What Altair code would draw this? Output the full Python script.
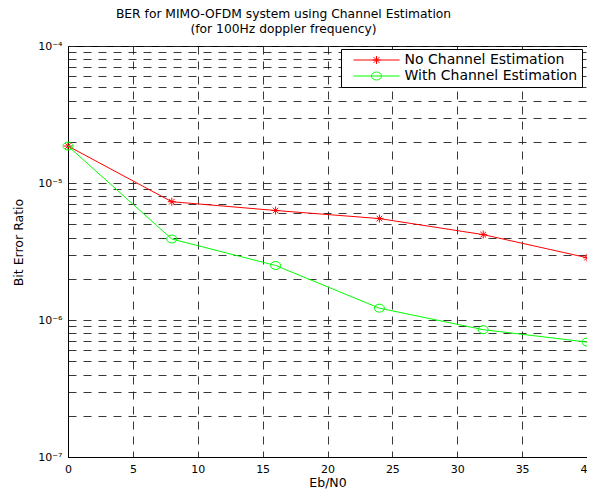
import altair as alt
import pandas as pd

# ---- data ----
eb_n0 = [0, 8, 16, 24, 32, 40]
ber_no_est = [1.86e-5, 7.3e-6, 6.3e-6, 5.5e-6, 4.2e-6, 2.85e-6]
ber_with_est = [1.86e-5, 3.9e-6, 2.5e-6, 1.22e-6, 8.5e-7, 6.9e-7]
series_names = ["No Channel Estimation", "With Channel Estimation"]
series_colors = ["#ff0000", "#00ff00"]
x_ticks = [0, 5, 10, 15, 20, 25, 30, 35, 40]
y_decades = [1e-7, 1e-6, 1e-5, 1e-4]
y_decade_labels = ["10\u207b\u2077", "10\u207b\u2076", "10\u207b\u2075", "10\u207b\u2074"]
y_mantissas = [1, 2, 3, 4, 5, 6, 7, 8, 9]

rows = []
for name, vals in zip(series_names, [ber_no_est, ber_with_est]):
    for x, v in zip(eb_n0, vals):
        rows.append({"ebn0": x, "ber": v, "series": name})
df = pd.DataFrame(rows)

y_grid = [m * d for d in y_decades[:-1] for m in y_mantissas] + [y_decades[-1]]

label_expr = "''"
for d, lab in zip(y_decades, y_decade_labels):
    label_expr = f"abs(datum.value - {d}) < {d * 1e-6} ? '{lab}' : ({label_expr})"

FONT = "DejaVu Sans"

# marker paths
ast_path = "M-1,0H1M0,-1V1M-0.7,-0.7L0.7,0.7M-0.7,0.7L0.7,-0.7"
circ_path = "M-1,0A1,0.8 0 1,0 1,0A1,0.8 0 1,0 -1,0"
marker_paths = [ast_path, circ_path]
marker_sizes = [64, 100]
# legend paths: line segment with marker in the middle (unit = 5px)
leg_ast = ("M-4.6,0H4.6M-0.8,0H0.8M0,-0.8V0.8M-0.57,-0.57L0.57,0.57"
           "M-0.57,0.57L0.57,-0.57")
leg_circ = "M-4.6,0H4.6M-1,0A1,0.8 0 1,0 1,0A1,0.8 0 1,0 -1,0"

X = alt.X("ebn0:Q", scale=alt.Scale(domain=[0, 40], nice=False, zero=False),
          axis=alt.Axis(values=x_ticks, title="Eb/N0", grid=True, format="d",
                        labelFlush=False, labelOverlap=False))
Y = alt.Y("ber:Q", scale=alt.Scale(type="log", domain=[1e-7, 1e-4], nice=False),
          axis=alt.Axis(values=y_grid, title="Bit Error Ratio", grid=True,
                        labelExpr=label_expr, labelOverlap=False, labelFlush=False,
                        titleY=196))

base = alt.Chart(df)

series_layers = []
for name, col, path, size in zip(series_names, series_colors, marker_paths, marker_sizes):
    sub = base.transform_filter(alt.datum.series == name)
    series_layers.append(sub.mark_line(strokeWidth=1, color=col).encode(x=X, y=Y))
    series_layers.append(
        sub.mark_point(filled=False, strokeWidth=1, opacity=1, shape=path, size=size, color=col)
        .encode(x=X, y=Y)
    )

leg_props = dict(
    title=None, orient="none", legendX=273, legendY=3,
    strokeColor="black", fillColor="white", padding=4,
    labelFont=FONT, labelFontSize=14, labelColor="black", labelLimit=400,
    symbolStrokeWidth=1, symbolOpacity=1, rowPadding=2,
    symbolSize=100, symbolOffset=24.5, labelOffset=21,
)

legend_layer = base.mark_point(filled=False, opacity=0, size=100, strokeWidth=1).encode(
    x=X, y=Y,
    color=alt.Color("series:N", scale=alt.Scale(domain=series_names, range=series_colors),
                    legend=alt.Legend(**leg_props)),
    shape=alt.Shape("series:N", scale=alt.Scale(domain=series_names, range=[leg_ast, leg_circ]),
                    legend=alt.Legend(**leg_props)),
)

chart = alt.layer(*series_layers, legend_layer).properties(
    width=519, height=411,
    autosize=alt.AutoSizeParams(type="none"),
    padding={"left": 60, "top": 38, "right": 0, "bottom": 34},
    title=alt.TitleParams(
        text=["BER for MIMO-OFDM system using Channel Estimation", "(for 100Hz doppler frequency)"],
        font=FONT, fontSize=12.3, fontWeight="normal", color="black",
        anchor="middle", dx=-44, offset=5, lineHeight=14.5,
    ),
).configure_view(
    stroke="black", strokeWidth=1
).configure_axis(
    labelFont=FONT, labelFontSize=11, labelColor="black",
    titleFont=FONT, titleFontSize=12.5, titleFontWeight="normal", titleColor="black",
    domainColor="black", domainWidth=1, ticks=False, tickSize=0, labelPadding=6,
    gridColor="#222222", gridDash=[8, 7], gridWidth=1, gridOpacity=0.9,
).configure_axisY(
    titlePadding=12,
).configure_axisX(
    titlePadding=2, labelPadding=6,
)

chart.save("out.html", embed_options={"renderer": "svg", "actions": False})
